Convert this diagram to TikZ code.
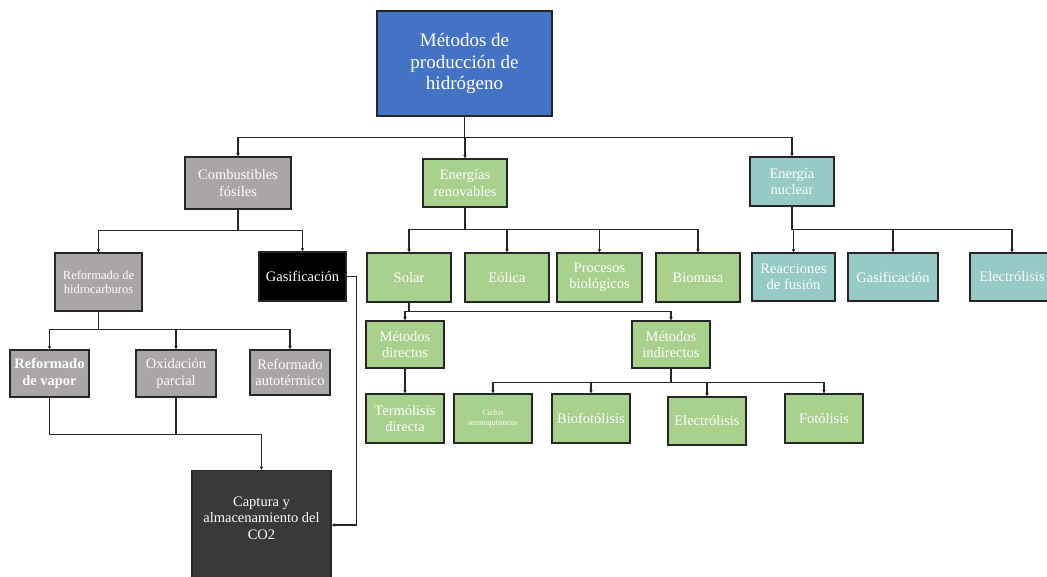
\documentclass[tikz,border=0pt]{standalone}
\usepackage{fontspec}
\setmainfont{Liberation Serif}
\usetikzlibrary{arrows.meta}

\definecolor{hblue}{HTML}{4472C4}
\definecolor{fossil}{HTML}{AAA6A5}
\definecolor{renew}{HTML}{A9D18E}
\definecolor{nuke}{HTML}{97CAC6}
\definecolor{ccs}{HTML}{3A3838}
\definecolor{edge}{HTML}{262626}

\tikzset{
  box/.style={draw=edge, line width=1.3pt, text=white, align=center,
              inner sep=1pt, font=\fontsize{14.5}{16.5}\selectfont},
  fossilbox/.style={box, fill=fossil},
  renewbox/.style={box, fill=renew},
  nukebox/.style={box, fill=nuke},
  sz/.style 2 args={minimum width=#1pt, minimum height=#2pt},
  link/.style={draw=edge, line width=1.1pt},
  arr/.style={link, -{Stealth[length=3.5pt,width=3.5pt]}},
}

\begin{document}
\begin{tikzpicture}[x=1pt, y=-1pt]
\useasboundingbox (0,0) rectangle (1047,576);
\clip (0,0) rectangle (1047,576);
\fill[white] (0,0) rectangle (1047,576);

% root
\node[box, fill=hblue, sz={175}{105}, font=\fontsize{19}{21.7}\selectfont]
  (root) at (464.5,63.5) {Métodos de\\producción de\\hidrógeno};

% first level
\node[fossilbox, sz={106}{52}] (comb) at (238,183) {Combustibles\\fósiles};
\node[renewbox, sz={84}{48}] (ener) at (465,183) {Energías\\renovables};
\node[nukebox, sz={84}{49}] (nucl) at (792,181.5) {Energía\\nuclear};

% fossil branch
\node[fossilbox, sz={87}{58}, font=\fontsize{12.5}{14}\selectfont]
  (refhid) at (98.5,282) {Reformado de\\hidrocarburos};
\node[box, fill=black, sz={87}{49}] (gasif) at (302.5,276.5) {Gasificación};
\node[fossilbox, sz={79}{47}, font=\fontsize{14.5}{16.5}\selectfont\bfseries]
  (vapor) at (49.5,373.5) {Reformado\\de vapor};
\node[fossilbox, sz={80}{47}] (oxid) at (176,373.5) {Oxidación\\parcial};
\node[fossilbox, sz={80}{45}] (autot) at (290,372.5) {Reformado\\autotérmico};
\node[box, fill=ccs, sz={139}{139},
  label={[text=white, align=center, font=\fontsize{14.5}{16.5}\selectfont, yshift=22pt]center:Captura y\\almacenamiento del\\CO2}]
  (cap) at (261.5,540) {};

% renewable branch
\node[renewbox, sz={84}{49}] (solar) at (409,277.5) {Solar};
\node[renewbox, sz={84}{49}] (eol) at (507,277.5) {Eólica};
\node[renewbox, sz={85}{49}] (bio) at (599.5,277.5) {Procesos\\biológicos};
\node[renewbox, sz={84}{49}] (biom) at (698,277.5) {Biomasa};
\node[renewbox, sz={78}{47}] (direct) at (405,344.5) {Métodos\\directos};
\node[renewbox, sz={78}{47}] (indir) at (671,344.5) {Métodos\\indirectos};
\node[renewbox, sz={78}{49}] (termol) at (405,418.5) {Termólisis\\directa};
\node[renewbox, sz={78}{49}, font=\fontsize{8.2}{10}\selectfont]
  (ciclos) at (493,418.5) {Ciclos\\termoquímicos};
\node[renewbox, sz={78}{49}] (biofot) at (591,418.5) {Biofotólisis};
\node[renewbox, sz={78}{48}] (electro) at (707,421) {Electrólisis};
\node[renewbox, sz={78}{49}] (fotol) at (824,418.5) {Fotólisis};

% nuclear branch
\node[nukebox, sz={83}{48}] (fusion) at (793.5,277) {Reacciones\\de fusión};
\node[nukebox, sz={90}{48}] (gasnuc) at (893,277) {Gasificación};
\node[nukebox, sz={84}{48}] (elecnuc) at (1012,277) {Electrólisis};

% connectors: root
\foreach \c in {comb, ener, nucl}
  \draw[arr] (root.south) -- ++(0,21) -| (\c.north);

% connectors: fossil
\foreach \c in {refhid, gasif}
  \draw[arr] (comb.south) -- ++(0,21) -| (\c.north);
\foreach \c in {vapor, oxid, autot}
  \draw[arr] (refhid.south) -- ++(0,18) -| (\c.north);
\draw[arr] (vapor.south) -- ++(0,37) -| (cap.north);
\draw[link] (oxid.south) -- ++(0,37);
\draw[arr] (gasif.east) -- ++(10,0) |- ([yshift=15pt]cap.east);

% connectors: renewable
\foreach \c in {solar, eol, bio, biom}
  \draw[arr] (ener.south) -- ++(0,22) -| (\c.north);
\foreach \c in {direct, indir}
  \draw[arr] (solar.south) -- ++(0,9) -| (\c.north);
\draw[arr] (direct.south) -- (termol.north);
\foreach \c in {ciclos, biofot, electro, fotol}
  \draw[arr] (indir.south) -- ++(0,14) -| (\c.north);

% connectors: nuclear
\foreach \c in {fusion, gasnuc, elecnuc}
  \draw[arr] (nucl.south) -- ++(0,23) -| (\c.north);
\end{tikzpicture}
\end{document}
